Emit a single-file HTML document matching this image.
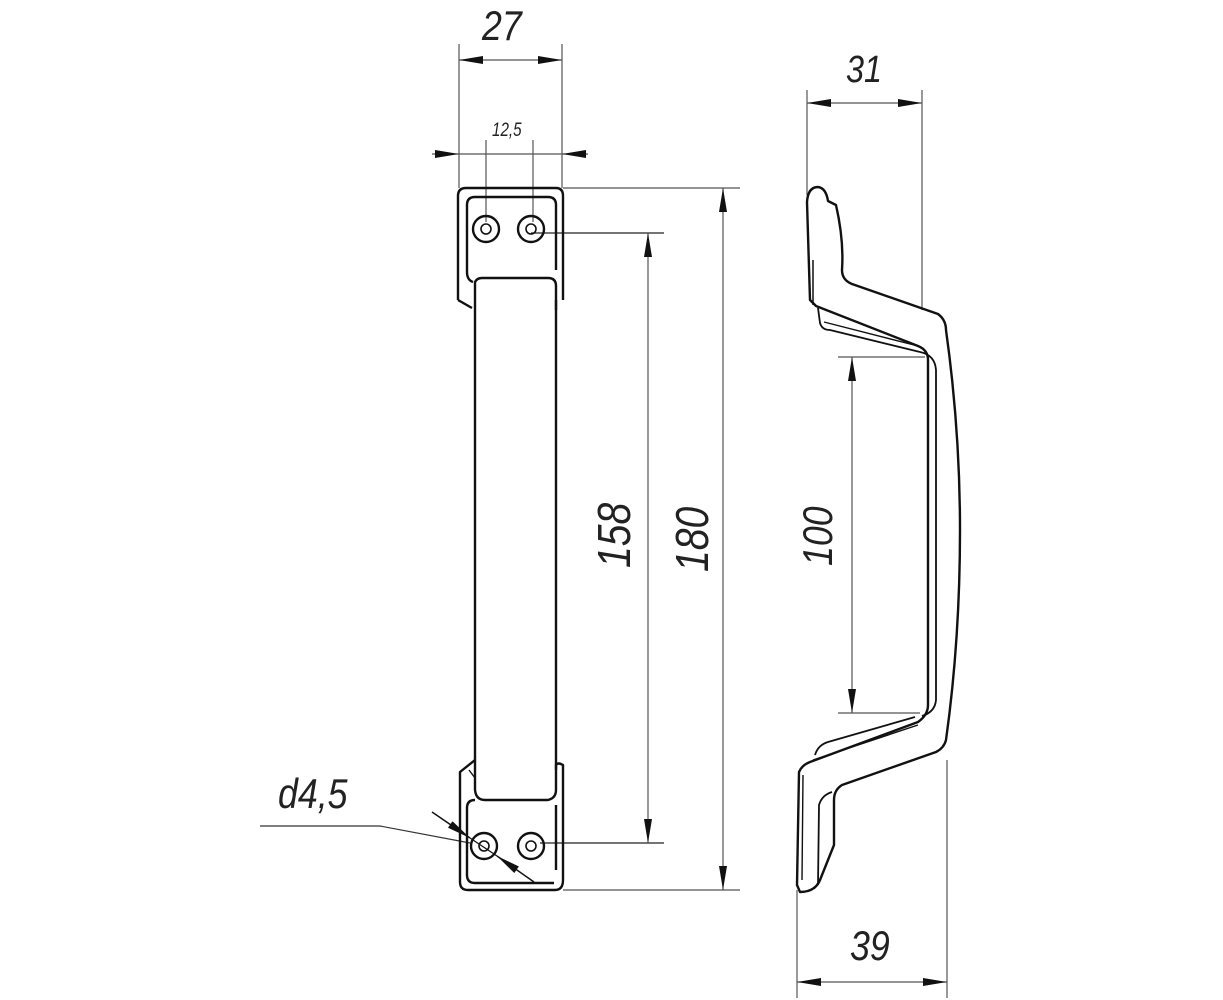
<!DOCTYPE html>
<html><head><style>
html,body{margin:0;padding:0;background:#fff;}
svg{display:block;}
text{font-family:"Liberation Sans",sans-serif;font-style:italic;fill:#222;}
</style></head><body>
<svg width="1223" height="1000" viewBox="0 0 1223 1000" xmlns="http://www.w3.org/2000/svg">
<defs>
<marker id="a" viewBox="0 0 24 8" refX="24" refY="4" markerWidth="24" markerHeight="8" markerUnits="userSpaceOnUse" orient="auto-start-reverse"><path d="M0,0 L24,4 L0,8 Z" fill="#111"/></marker>
</defs>
<g stroke="#555" stroke-width="1.2" fill="none">
<line x1="459" y1="44" x2="459" y2="188"/>
<line x1="562" y1="44" x2="562" y2="188"/>
<line x1="459" y1="60" x2="562" y2="60" marker-start="url(#a)" marker-end="url(#a)"/>
<line x1="432" y1="154" x2="459" y2="154" marker-end="url(#a)"/>
<line x1="588" y1="154" x2="562" y2="154" marker-end="url(#a)"/>
<line x1="459" y1="154" x2="562" y2="154"/>
<line x1="486" y1="140" x2="486" y2="222"/>
<line x1="533" y1="140" x2="533" y2="222"/>
<line x1="531" y1="233" x2="664" y2="233" stroke="#222"/>
<line x1="540" y1="843" x2="664" y2="843" stroke="#222"/>
<line x1="648" y1="233" x2="648" y2="843" marker-start="url(#a)" marker-end="url(#a)"/>
<line x1="563" y1="188" x2="740" y2="188"/>
<line x1="563" y1="890" x2="740" y2="890"/>
<line x1="723" y1="188" x2="723" y2="890" marker-start="url(#a)" marker-end="url(#a)"/>
<polyline points="260,826 380,826 470,843" stroke="#333"/>
<line x1="432" y1="812" x2="470" y2="838" stroke="#111" stroke-width="1.5" marker-end="url(#a)"/>
<line x1="534" y1="882" x2="497" y2="856" stroke="#111" stroke-width="1.5" marker-end="url(#a)"/>
<line x1="470" y1="838" x2="497" y2="856" stroke="#111"/>
<line x1="807" y1="90" x2="807" y2="195"/>
<line x1="922" y1="90" x2="922" y2="310"/>
<line x1="807" y1="103" x2="922" y2="103" marker-start="url(#a)" marker-end="url(#a)"/>
<line x1="797" y1="890" x2="797" y2="998"/>
<line x1="947" y1="760" x2="947" y2="998"/>
<line x1="797" y1="982" x2="947" y2="982" marker-start="url(#a)" marker-end="url(#a)"/>
<line x1="838" y1="357" x2="925" y2="357"/>
<line x1="838" y1="713" x2="920" y2="713"/>
<line x1="852" y1="357" x2="852" y2="713" marker-start="url(#a)" marker-end="url(#a)"/>
</g>
<g stroke="#111" stroke-width="2.4" fill="none" stroke-linejoin="round">
<path d="M458,300 L458,196 Q458,188 466,188 L556,188 Q563,188 563,196 L563,300"/>
<path d="M473,282 Q467,280 467,272 L467,205 Q467,197 475,197 L548,197 Q556,197 556,205 L556,270"/>
<path d="M458,300 L472,308"/>
<circle cx="486" cy="229" r="13"/><circle cx="486" cy="229" r="5" stroke-width="1.6"/>
<circle cx="531" cy="229" r="13"/><circle cx="531" cy="229" r="5" stroke-width="1.6"/>
<path d="M475,300 L475,282 Q477,278 482,278 L548,278 Q556,278 556,286 L556,310"/>
<line x1="475" y1="300" x2="475" y2="790"/>
<line x1="556" y1="300" x2="556" y2="770"/>
<path d="M475,790 Q476,800 485,800 L548,800 Q556,798 556,790 L556,765 Q558,762 563,765 L563,880 Q563,890 555,890 L468,890 Q460,890 460,882 L460,772 L475,760"/>
<path d="M475,800 Q467,800 467,808 L467,875 Q467,883 475,883 L554,883"/>
<line x1="556" y1="805" x2="556" y2="870"/>
<line x1="469" y1="770" x2="475" y2="778" stroke-width="1.4"/>
<circle cx="484" cy="846" r="13"/><circle cx="484" cy="846" r="5" stroke-width="1.6"/>
<circle cx="531" cy="846" r="13"/><circle cx="531" cy="846" r="5" stroke-width="1.6"/>
<path d="M810,300 L807,202 Q808,187 818,187 Q826,188 828,201 L836,205 Q844,240 842,270 Q842,280 852,284 L938,314 Q946,320 946,330 Q960,430 960,530 Q960,640 946,740 Q944,748 936,752 L842,785 Q834,790 834,800 L834,845 L820,880 Q815,892 800,892 L797,885 L799,772 Q802,765 810,762 L918,722 Q928,715 928,705 L928,360 Q928,350 918,346 L816,306 Z"/>
<path d="M813,305 L813,260" stroke-width="1.5"/>
<path d="M818,308 L820,323 Q822,330 830,330 L920,352" stroke-width="1.8"/>
<path d="M824,322 L918,346" stroke-width="1.4"/>
<path d="M920,352 Q935,355 936,370 L936,700 Q935,712 922,716" stroke-width="1.8"/>
<path d="M815,755 Q818,745 828,742 L915,717" stroke-width="1.8"/>
<path d="M813,760 L918,725" stroke-width="1.4"/>
<path d="M802,880 L803,775" stroke-width="1.4"/>
<path d="M818,885 L819,805 Q822,795 832,792" stroke-width="1.8"/>
</g>
<g>
<text transform="translate(482,40) scale(0.85,1)" font-size="42">27</text>
<text transform="translate(492,136) scale(0.8,1)" font-size="19">12,5</text>
<text transform="translate(278,808) scale(0.85,1)" font-size="42">d4,5</text>
<text transform="translate(846,82) scale(0.85,1)" font-size="38">31</text>
<text transform="translate(850,960) scale(0.85,1)" font-size="42">39</text>
<text transform="translate(630,568) rotate(-90) scale(0.85,1)" font-size="46">158</text>
<text transform="translate(708,572) rotate(-90) scale(0.85,1)" font-size="46">180</text>
<text transform="translate(832,566) rotate(-90) scale(0.85,1)" font-size="42">100</text>
</g>
</svg>
</body></html>
